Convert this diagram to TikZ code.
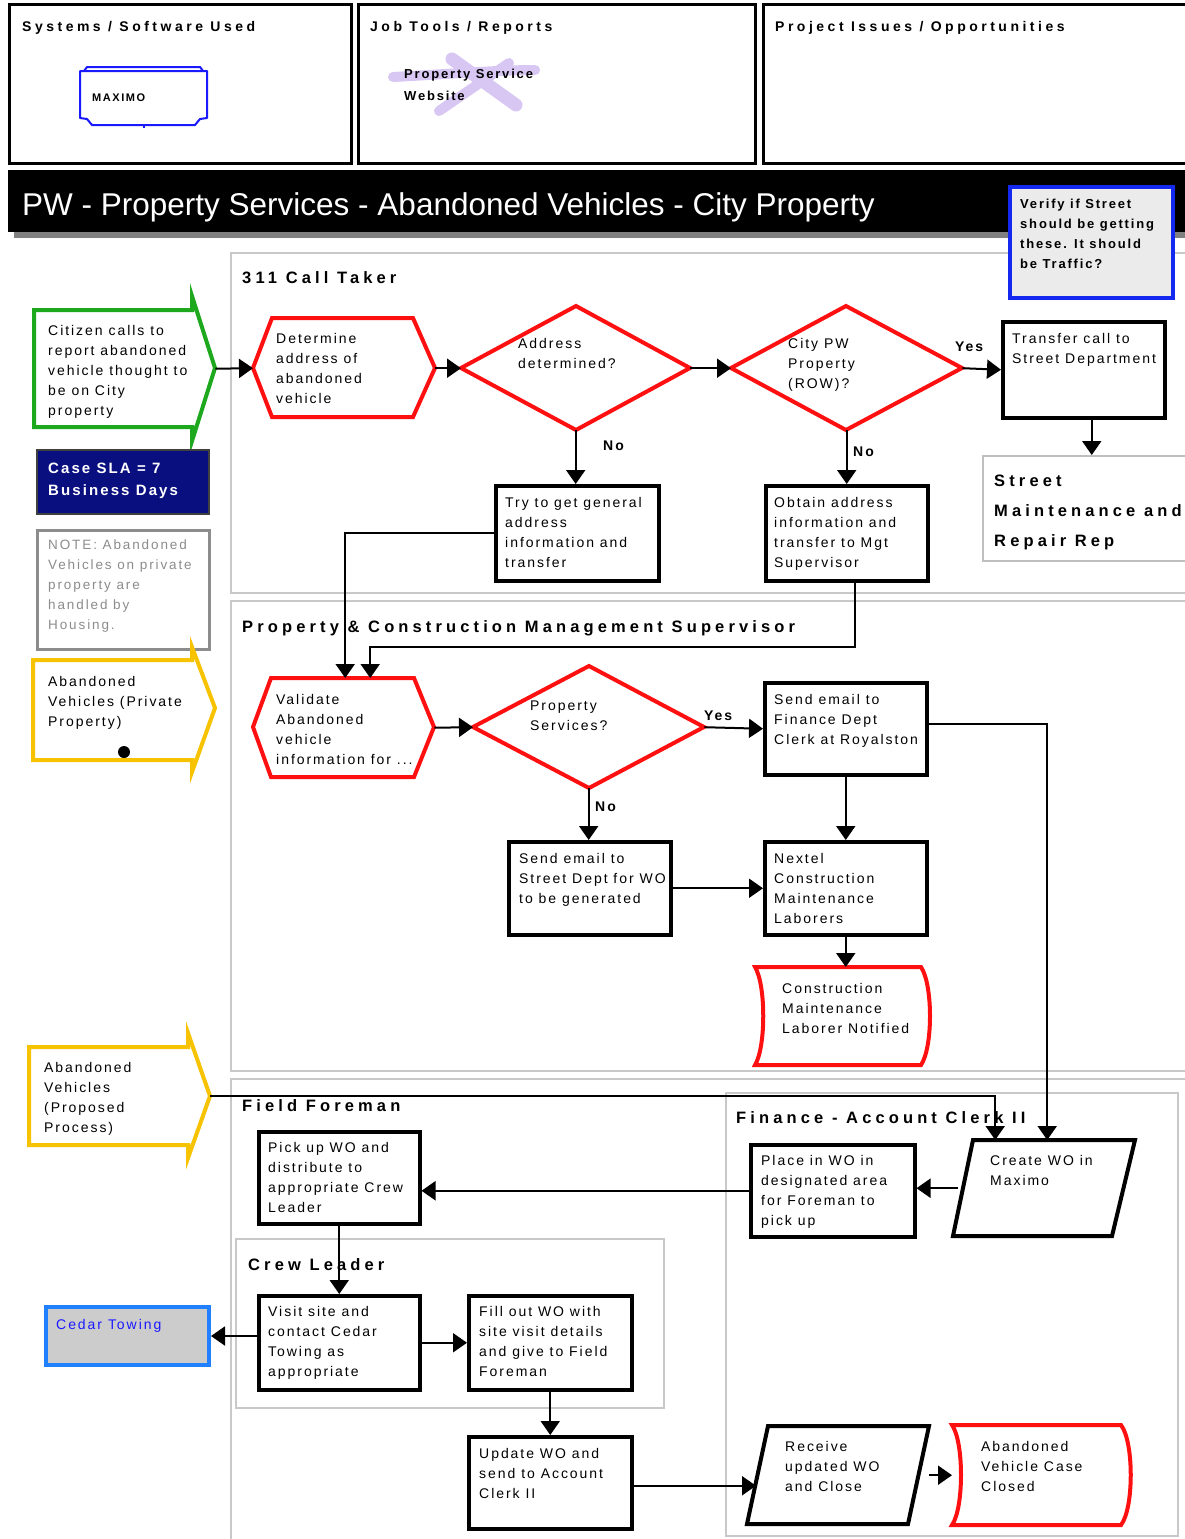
\documentclass[tikz,border=0pt]{standalone}
\usepackage{fontspec}
\setmainfont{Liberation Sans}
\newfontfamily\bodyfont{Liberation Sans}[LetterSpace=14]
\newfontfamily\headfont{Liberation Sans}[LetterSpace=25]
\usetikzlibrary{arrows.meta,calc}

\definecolor{flowred}{HTML}{FF1010}
\definecolor{flowgreen}{HTML}{1EA81E}
\definecolor{flowyellow}{HTML}{F7C300}
\definecolor{slanavy}{HTML}{0A0F80}
\definecolor{towblue}{HTML}{2080FF}
\definecolor{noteblue}{HTML}{1428F0}
\definecolor{maxblue}{HTML}{1A1AFF}
\definecolor{lavender}{HTML}{D8C6F3}
\definecolor{lanegray}{HTML}{C8C8C8}

\newcommand\boxtext[1]{\parbox[t]{300pt}{\raggedright #1}}

\tikzset{
  flow/.style={line width=2pt, draw=black, -{Triangle[length=14pt,width=19pt]}},
  stepbox/.style={draw=black, line width=3.5pt, inner sep=0pt, anchor=north west},
  hit/.style={draw=none, inner sep=0pt, anchor=north west},
  panel/.style={draw=black, line width=3pt, inner sep=0pt, anchor=north west},
  lane/.style={draw=lanegray, line width=2pt, inner sep=0pt, anchor=north west},
  redline/.style={draw=flowred, line width=4pt, line join=miter},
  txt/.style={inner sep=0pt, anchor=base west, font=\bodyfont\fontsize{14}{20}\selectfont},
  head/.style={inner sep=0pt, anchor=base west, font=\headfont\bfseries\fontsize{16.5}{30}\selectfont},
  ptitle/.style={inner sep=0pt, anchor=base west, font=\headfont\bfseries\fontsize{14}{16}\selectfont},
  tag/.style={inner sep=0pt, anchor=base west, font=\bodyfont\bfseries\fontsize{14}{16}\selectfont},
}

\begin{document}
\begin{tikzpicture}[x=1pt,y=-1pt]
\useasboundingbox (0,0) rectangle (1185,1539);
\clip (0,0) rectangle (1185,1539);
\fill[white] (0,0) rectangle (1185,1539);

% ---- header panels ----
\node[panel, minimum width=342pt, minimum height=159pt] (sys) at (8,3) {};
\node[panel, minimum width=397pt, minimum height=159pt] (tools) at (357,3) {};
\node[panel, minimum width=440pt, minimum height=159pt] (issues) at (762,3) {};
\node[ptitle] (sys-t) at (22,31) {Systems / Software Used};
\node[ptitle] (tools-t) at (370,31) {Job Tools / Reports};
\node[ptitle] (issues-t) at (775,31) {Project Issues / Opportunities};

% MAXIMO system symbol
\draw[maxblue, line width=2pt, line join=round]
  (80,71) -- (80,118) -- (87,119) -- (92,125) -- (195,125) -- (200,119) -- (207,118) -- (207,71) -- cycle;
\draw[maxblue, line width=2pt, line join=round] (84,71) -- (87,67) -- (200,67) -- (203,71);
\draw[maxblue, line width=1.5pt] (144,125) -- (144,128);
\node[hit, minimum width=127pt, minimum height=58pt] (maximo) at (80,67) {};
\node[inner sep=0pt, anchor=base west, font=\bodyfont\bfseries\fontsize{11}{13}\selectfont] (maximo-t) at (92,101) {MAXIMO};

% website marker stroke
\draw[lavender, line width=10pt, line cap=round] (393,77) .. controls (450,74) and (500,70) .. (535,70);
\draw[lavender, line width=13pt, line cap=round] (452,59) -- (516,105);
\draw[lavender, line width=10pt, line cap=round] (509,63) -- (439,111);
\node[inner sep=0pt, anchor=base west, font=\bodyfont\bfseries\fontsize{13}{22}\selectfont] (web-t) at (404,78)
  {\boxtext{Property Service\\Website}};

% ---- title bar ----
\fill[black!50] (14,232) rectangle (1185,238);
\node[fill=black, inner sep=0pt, anchor=north west, minimum width=1177pt, minimum height=62pt] (bar) at (8,170) {};
\node[inner sep=0pt, anchor=base west, text=white, font=\fontsize{31.5}{36}\selectfont] (title) at (22,215)
  {PW - Property Services - Abandoned Vehicles - City Property};

% ---- swimlanes ----
\node[lane, minimum width=975pt, minimum height=340pt] (lane311) at (230,252) {};
\node[lane, minimum width=975pt, minimum height=470pt] (lanepcm) at (230,600) {};
\node[lane, minimum width=975pt, minimum height=480pt] (laneff) at (230,1078) {};
\node[lane, minimum width=452pt, minimum height=443pt] (lanefin) at (725,1092) {};
\node[lane, minimum width=428pt, minimum height=169pt] (lanecrew) at (235,1238) {};
\node[head] (lane311-t) at (242,283) {311 Call Taker};
\node[head] (lanepcm-t) at (242,632) {Property \& Construction Management Supervisor};
\node[head] (laneff-t) at (242,1111) {Field Foreman};
\node[head] (lanefin-t) at (736,1123) {Finance - Account Clerk II};
\node[head] (lanecrew-t) at (248,1270) {Crew Leader};

% review note
\node[draw=noteblue, fill=black!8, line width=3.5pt, inner sep=0pt, anchor=north west,
      minimum width=163pt, minimum height=111pt] (verify) at (1008,185) {};
\node[inner sep=0pt, anchor=base west, font=\bodyfont\bfseries\fontsize{13}{20}\selectfont] (verify-t) at (1020,208)
  {\boxtext{Verify if Street\\should be getting\\these. It should\\be Traffic?}};

% ---- left column ----
\draw[flowgreen, line width=4pt, line join=miter] (34,310) -- (192,310) -- (192,296) -- (215,368) -- (192,441) -- (192,427) -- (34,427) -- cycle;
\node[hit, minimum width=181pt, minimum height=117pt] (citizen) at (34,310) {};
\node[txt] (citizen-t) at (48,335) {\boxtext{Citizen calls to\\report abandoned\\vehicle thought to\\be on City\\property}};

\node[draw=black!75, fill=slanavy, line width=2pt, inner sep=0pt, anchor=north west,
      minimum width=172pt, minimum height=64pt] (sla) at (36,449) {};
\node[inner sep=0pt, anchor=base west, text=white, font=\bodyfont\bfseries\fontsize{15}{22}\selectfont] (sla-t) at (48,473)
  {\boxtext{Case SLA = 7\\Business Days}};

\node[draw=black!45, line width=2.5pt, inner sep=0pt, anchor=north west,
      minimum width=172pt, minimum height=119pt] (note) at (36,529) {};
\node[txt, text=black!45, font=\bodyfont\fontsize{13.5}{20}\selectfont] (note-t) at (48,549)
  {\boxtext{NOTE: Abandoned\\Vehicles on private\\property are\\handled by\\Housing.}};

\draw[flowyellow, line width=4pt, line join=miter] (33,660) -- (192,660) -- (192,647) -- (215,708) -- (192,772) -- (192,760) -- (33,760) -- cycle;
\node[hit, minimum width=182pt, minimum height=100pt] (private) at (33,660) {};
\node[txt] (private-t) at (48,686) {\boxtext{Abandoned\\Vehicles (Private\\Property)}};
\fill (124,752) circle (6pt);

\draw[flowyellow, line width=4pt, line join=miter] (29,1047) -- (188,1047) -- (188,1033) -- (210,1096) -- (188,1158) -- (188,1145) -- (29,1145) -- cycle;
\node[hit, minimum width=181pt, minimum height=98pt] (proposed) at (29,1047) {};
\node[txt] (proposed-t) at (44,1072) {\boxtext{Abandoned\\Vehicles\\(Proposed\\Process)}};

\node[draw=towblue, fill=black!20, line width=4pt, inner sep=0pt, anchor=north west,
      minimum width=163pt, minimum height=58pt] (cedar) at (44,1305) {};
\node[txt, text=maxblue] (cedar-t) at (56,1329) {Cedar Towing};

% ---- 311 Call Taker ----
\draw[redline] (253,368) -- (272,318) -- (413,318) -- (435,368) -- (413,417) -- (272,417) -- cycle;
\node[hit, minimum width=182pt, minimum height=100pt] (det) at (253,318) {};
\node[txt] (det-t) at (276,343) {\boxtext{Determine\\address of\\abandoned\\vehicle}};

\draw[redline] (461,368) -- (576,306) -- (690,368) -- (576,430) -- cycle;
\node[hit, minimum width=229pt, minimum height=124pt] (addr) at (461,306) {};
\node[txt] (addr-t) at (518,348) {\boxtext{Address\\determined?}};

\draw[redline] (731,368) -- (846,306) -- (962,368) -- (846,430) -- cycle;
\node[hit, minimum width=231pt, minimum height=124pt] (city) at (731,306) {};
\node[txt] (city-t) at (788,348) {\boxtext{City PW\\Property\\(ROW)?}};

\node[stepbox, minimum width=162pt, minimum height=96pt] (transfer) at (1001,320) {};
\node[txt] (transfer-t) at (1012,343) {\boxtext{Transfer call to\\Street Department}};

\node[draw=black!25, line width=2pt, inner sep=0pt, anchor=north west,
      minimum width=215pt, minimum height=105pt] (street) at (982,455) {};
\node[head] (street-t) at (994,486) {\boxtext{Street\\Maintenance and\\Repair Rep}};

\node[stepbox, minimum width=163pt, minimum height=95pt] (try) at (494,484) {};
\node[txt] (try-t) at (505,507) {\boxtext{Try to get general\\address\\information and\\transfer}};

\node[stepbox, minimum width=162pt, minimum height=95pt] (obtain) at (764,484) {};
\node[txt] (obtain-t) at (774,507) {\boxtext{Obtain address\\information and\\transfer to Mgt\\Supervisor}};

\node[tag] (yes1) at (955,351) {Yes};
\node[tag] (no1) at (603,450) {No};
\node[tag] (no2) at (853,456) {No};

% ---- Property & Construction Management Supervisor ----
\draw[redline] (253,727) -- (271,678) -- (414,678) -- (434,727) -- (414,777) -- (271,777) -- cycle;
\node[hit, minimum width=181pt, minimum height=99pt] (val) at (253,678) {};
\node[txt] (val-t) at (276,704) {\boxtext{Validate\\Abandoned\\vehicle\\information for ...}};

\draw[redline] (473,727) -- (589,666) -- (704,727) -- (589,788) -- cycle;
\node[hit, minimum width=231pt, minimum height=122pt] (prop) at (473,666) {};
\node[txt] (prop-t) at (530,710) {\boxtext{Property\\Services?}};

\node[stepbox, minimum width=162pt, minimum height=92pt] (send) at (763,681) {};
\node[txt] (send-t) at (774,704) {\boxtext{Send email to\\Finance Dept\\Clerk at Royalston}};

\node[stepbox, minimum width=162pt, minimum height=93pt] (sendst) at (507,840) {};
\node[txt] (sendst-t) at (519,863) {\boxtext{Send email to\\Street Dept for WO\\to be generated}};

\node[stepbox, minimum width=162pt, minimum height=93pt] (nextel) at (763,840) {};
\node[txt] (nextel-t) at (774,863) {\boxtext{Nextel\\Construction\\Maintenance\\Laborers}};

\draw[redline] (755,967) -- (921,967) .. controls (933,985) and (933,1047) .. (921,1065) -- (755,1065) .. controls (766,1047) and (766,985) .. (755,967) -- cycle;
\node[hit, minimum width=177pt, minimum height=98pt] (cmln) at (755,967) {};
\node[txt] (cmln-t) at (782,993) {\boxtext{Construction\\Maintenance\\Laborer Notified}};

\node[tag] (yes2) at (704,720) {Yes};
\node[tag] (no3) at (595,811) {No};

% ---- Field Foreman / Crew Leader / Finance ----
\node[stepbox, minimum width=161pt, minimum height=92pt] (pick) at (257,1130) {};
\node[txt] (pick-t) at (268,1152) {\boxtext{Pick up WO and\\distribute to\\appropriate Crew\\Leader}};

\node[stepbox, minimum width=161pt, minimum height=94pt] (visit) at (257,1294) {};
\node[txt] (visit-t) at (268,1316) {\boxtext{Visit site and\\contact Cedar\\Towing as\\appropriate}};

\node[stepbox, minimum width=163pt, minimum height=94pt] (fill) at (467,1294) {};
\node[txt] (fill-t) at (479,1316) {\boxtext{Fill out WO with\\site visit details\\and give to Field\\Foreman}};

\node[stepbox, minimum width=163pt, minimum height=92pt] (update) at (467,1435) {};
\node[txt] (update-t) at (479,1458) {\boxtext{Update WO and\\send to Account\\Clerk II}};

\node[stepbox, minimum width=164pt, minimum height=92pt] (place) at (749,1143) {};
\node[txt] (place-t) at (761,1165) {\boxtext{Place in WO in\\designated area\\for Foreman to\\pick up}};

\draw[black, line width=4pt, line join=miter] (973,1140) -- (1135,1140) -- (1112,1236) -- (953,1236) -- cycle;
\node[hit, minimum width=182pt, minimum height=96pt] (create) at (953,1140) {};
\node[txt] (create-t) at (990,1165) {\boxtext{Create WO in\\Maximo}};

\draw[black, line width=4pt, line join=miter] (768,1426) -- (929,1426) -- (908,1524) -- (747,1524) -- cycle;
\node[hit, minimum width=182pt, minimum height=98pt] (recv) at (747,1426) {};
\node[txt] (recv-t) at (785,1451) {\boxtext{Receive\\updated WO\\and Close}};

\draw[redline] (952,1425) -- (1121,1425) .. controls (1134,1442) and (1134,1508) .. (1121,1525) -- (952,1525) .. controls (964,1508) and (964,1442) .. (952,1425) -- cycle;
\node[hit, minimum width=180pt, minimum height=100pt] (closed) at (952,1425) {};
\node[txt] (closed-t) at (981,1451) {\boxtext{Abandoned\\Vehicle Case\\Closed}};

% ---- connectors ----
\draw[flow] (citizen.east) -- (det.west);
\draw[flow] (det.east) -- (addr.west);
\draw[flow] (addr.east) -- (city.west);
\draw[flow] (city.east) -- (transfer.west);
\draw[flow] ([xshift=8pt]transfer.south) -- ([xshift=8pt]transfer.south |- street.north);
\draw[flow] (addr.south) -- (addr.south |- try.north);
\draw[flow] (city.south) -- (city.south |- obtain.north);
\draw[flow] (try.west) -| ([xshift=1.5pt]val.north);
\draw[flow] ([xshift=8pt]obtain.south) -- ++(0,64) -| ([xshift=26.5pt]val.north);
\draw[flow] (val.east) -- (prop.west);
\draw[flow] (prop.east) -- (send.west);
\draw[flow] (prop.south) -- (prop.south |- sendst.north);
\draw[flow] (send.south) -- (send.south |- nextel.north);
\draw[flow] (sendst.east) -- (nextel.west);
\draw[flow] (nextel.south) -- (nextel.south |- cmln.north);
\draw[flow] ([yshift=5pt]send.east) -| ([xshift=3pt]create.north);
\draw[flow] (proposed.east) -| ([xshift=-49pt]create.north);
\draw[flow] ([xshift=5pt]create.west) -- (create.west -| place.east);
\draw[flow] (place.west) -- (place.west -| pick.east);
\draw[flow] (pick.south) -- (visit.north);
\draw[flow] (visit.west |- cedar.east) -- (cedar.east);
\draw[flow] (visit.east) -- (fill.west);
\draw[flow] (fill.south) -- (update.north);
\draw[flow] ($(update.east)+(0,3)$) -- ($(update.east -| recv.west)+(9,3)$);
\draw[flow] (recv.east) -- (closed.west);
\end{tikzpicture}
\end{document}
